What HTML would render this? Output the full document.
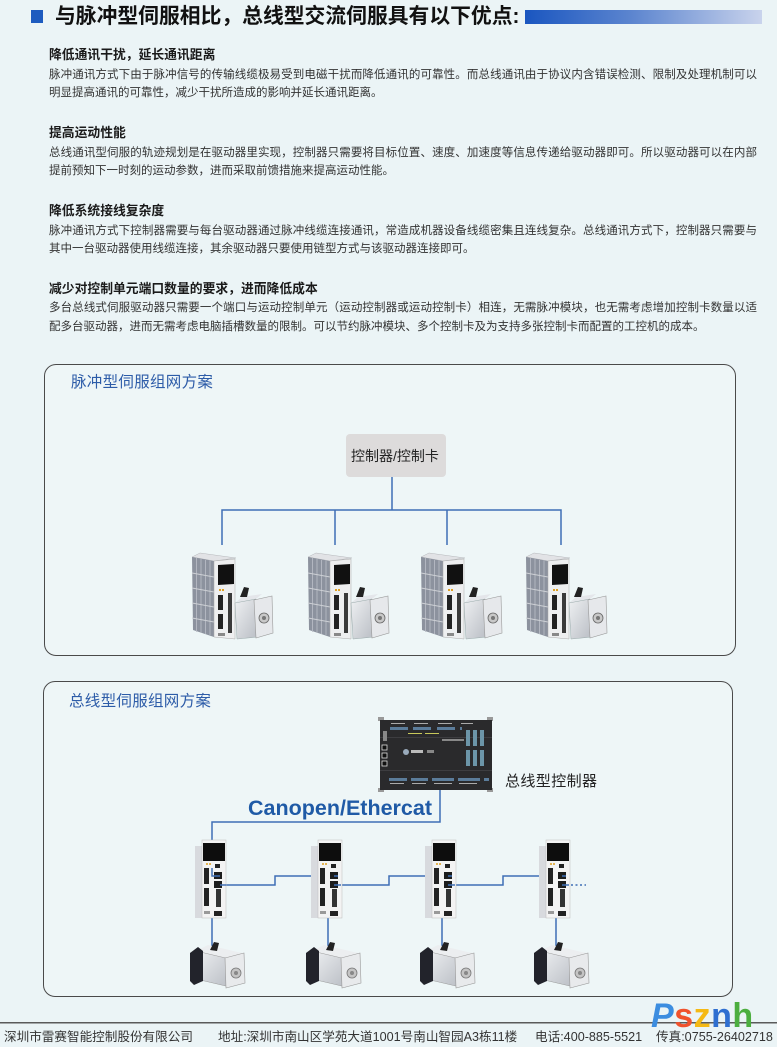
<!DOCTYPE html>
<html><head><meta charset="utf-8">
<style>
html,body{margin:0;padding:0;}
body{width:777px;height:1047px;position:relative;overflow:hidden;background:#ebf4f6;font-family:"Liberation Sans","Noto Sans CJK SC",sans-serif;}
.t{position:absolute;white-space:nowrap;}
.h{position:absolute;left:49px;font-size:12.8px;line-height:15px;font-weight:bold;color:#1a1a1a;white-space:nowrap;}
.b{position:absolute;left:49px;width:708px;font-size:11.5px;line-height:14px;color:#333;white-space:nowrap;}
.j{text-align:justify;text-align-last:justify;}
.pt{position:absolute;font-size:15.5px;line-height:18px;color:#2d5ca8;white-space:nowrap;letter-spacing:0.3px;}
.f{position:absolute;top:1029px;font-size:12.6px;line-height:16px;color:#333;white-space:nowrap;}
</style></head><body>

<!-- header -->
<div style="position:absolute;left:31px;top:10px;width:12px;height:13px;background:#1d5bbf;"></div>
<div class="t" style="left:55px;top:5px;font-size:20.8px;line-height:24px;font-weight:bold;color:#111;">与脉冲型伺服相比，总线型交流伺服具有以下优点:</div>
<div style="position:absolute;left:525px;top:10px;width:237px;height:14px;background:linear-gradient(to right,#1a56c0,#5c85cf 45%,#c9d3ec);"></div>

<!-- text blocks -->
<div class="h" style="top:47px;">降低通讯干扰，延长通讯距离</div>
<div class="b j" style="top:68px;">脉冲通讯方式下由于脉冲信号的传输线缆极易受到电磁干扰而降低通讯的可靠性。而总线通讯由于协议内含错误检测、限制及处理机制可以</div>
<div class="b" style="top:86px;">明显提高通讯的可靠性，减少干扰所造成的影响并延长通讯距离。</div>

<div class="h" style="top:125px;">提高运动性能</div>
<div class="b j" style="top:146px;">总线通讯型伺服的轨迹规划是在驱动器里实现，控制器只需要将目标位置、速度、加速度等信息传递给驱动器即可。所以驱动器可以在内部</div>
<div class="b" style="top:164px;">提前预知下一时刻的运动参数，进而采取前馈措施来提高运动性能。</div>

<div class="h" style="top:203px;">降低系统接线复杂度</div>
<div class="b j" style="top:224px;">脉冲通讯方式下控制器需要与每台驱动器通过脉冲线缆连接通讯，常造成机器设备线缆密集且连线复杂。总线通讯方式下，控制器只需要与</div>
<div class="b" style="top:242px;">其中一台驱动器使用线缆连接，其余驱动器只要使用链型方式与该驱动器连接即可。</div>

<div class="h" style="top:281px;">减少对控制单元端口数量的要求，进而降低成本</div>
<div class="b j" style="top:301px;">多台总线式伺服驱动器只需要一个端口与运动控制单元（运动控制器或运动控制卡）相连，无需脉冲模块，也无需考虑增加控制卡数量以适</div>
<div class="b" style="top:320px;">配多台驱动器，进而无需考虑电脑插槽数量的限制。可以节约脉冲模块、多个控制卡及为支持多张控制卡而配置的工控机的成本。</div>

<!-- panels -->
<div style="position:absolute;left:44px;top:364px;width:690px;height:290px;border:1.5px solid #4a4a4a;border-radius:12px;background:#eef6f7;"></div>
<div style="position:absolute;left:43px;top:681px;width:688px;height:314px;border:1.5px solid #4a4a4a;border-radius:12px;background:#eef6f7;"></div>

<div class="pt" style="left:71px;top:374px;">脉冲型伺服组网方案</div>
<div class="pt" style="left:69px;top:693px;">总线型伺服组网方案</div>

<svg style="position:absolute;left:0;top:0;" width="777" height="1047" viewBox="0 0 777 1047">
<defs>
  <linearGradient id="silver" x1="0" y1="0" x2="1" y2="1">
    <stop offset="0" stop-color="#eef0f2"/><stop offset="1" stop-color="#b9bdc4"/>
  </linearGradient>
  <g id="pd">
    <polygon points="2,4 10,0 46,5 24,8" fill="#e2e3e6" stroke="#b5b7bb" stroke-width="0.5"/>
    <polygon points="2,4 24,8 24,84 3,77" fill="#8c929e"/>
    <g stroke="#bcc0c8" stroke-width="0.8">
      <line x1="6.5" y1="5" x2="6.5" y2="79"/><line x1="11" y1="6" x2="11" y2="80"/>
      <line x1="15.5" y1="7" x2="15.5" y2="81"/><line x1="20" y1="7.5" x2="20" y2="82"/>
    </g>
    <g stroke="#cdd0d5" stroke-width="1">
      <line x1="2" y1="20" x2="24" y2="24"/><line x1="2" y1="35" x2="24" y2="39"/>
      <line x1="2" y1="50" x2="24" y2="54"/><line x1="2" y1="65" x2="24" y2="69"/>
    </g>
    <polygon points="24,8 45,6 45,86 24,84" fill="#eeeff0" stroke="#aaa" stroke-width="0.5"/>
    <polygon points="28,12 44,11 44,31 28,32" fill="#111"/>
    <rect x="29" y="36" width="2" height="2" fill="#e0a020"/><rect x="32" y="36" width="2" height="2" fill="#e0a020"/>
    <rect x="28" y="42" width="5" height="15" fill="#222"/>
    <rect x="28" y="61" width="5" height="15" fill="#222"/>
    <rect x="38" y="40" width="4" height="40" fill="#3a3a3a"/>
    <rect x="28" y="80" width="7" height="3" fill="#888"/>
    <polygon points="45,50 52,44 72,41 66,46" fill="#e4e6ea"/>
    <polygon points="45,50 66,46 68,84 47,86" fill="url(#silver)" stroke="#9aa" stroke-width="0.5"/>
    <polygon points="64,47 82,43 83,80 66,85" fill="#e6e8eb" stroke="#999" stroke-width="0.6"/>
    <circle cx="74" cy="65" r="5" fill="#c8c8c8" stroke="#666" stroke-width="0.8"/>
    <circle cx="74" cy="65" r="2" fill="#777"/>
    <polygon points="50,44 54,34 59,35 57,44" fill="#222"/>
  </g>
  <g id="bd">
    <rect x="0" y="6" width="7" height="72" fill="#d8dade"/>
    <rect x="7" y="0" width="24" height="78" fill="#f3f3f3" stroke="#bbb" stroke-width="0.5"/>
    <rect x="8" y="3" width="22" height="18" fill="#0d0d0d"/>
    <circle cx="12" cy="24" r="1" fill="#e0a020"/><circle cx="15" cy="24" r="1" fill="#e0a020"/>
    <rect x="20" y="24" width="5" height="4" fill="#222"/>
    <rect x="9" y="28" width="5" height="16" fill="#222"/>
    <rect x="19" y="32" width="8" height="7" fill="#1c1c1c"/>
    <rect x="19" y="41" width="8" height="7" fill="#1c1c1c"/>
    <rect x="9" y="48" width="5" height="18" fill="#222"/>
    <rect x="21" y="49" width="5" height="18" fill="#333"/>
    <rect x="19" y="71" width="8" height="5" fill="#222"/>
    <rect x="9" y="71" width="6" height="3" fill="#999"/>
  </g>
  <g id="bm">
    <polygon points="8,10 20,4 54,12 42,18" fill="#eceef0"/>
    <polygon points="8,10 42,18 42,46 8,38" fill="url(#silver)" stroke="#999" stroke-width="0.5"/>
    <polygon points="2,12 10,6 15,10 15,40 6,44 2,40" fill="#22232b"/>
    <polygon points="37,17 56,12 57,42 38,47" fill="#e8eaec" stroke="#999" stroke-width="0.6"/>
    <circle cx="48" cy="32" r="5" fill="#c4c4c4" stroke="#777" stroke-width="0.8"/>
    <circle cx="48" cy="32" r="2" fill="#888"/>
    <polygon points="22,9 26,1 31,2 29,10" fill="#222"/>
  </g>
</defs>

<!-- panel 1 -->
<rect x="346" y="434" width="100" height="43" rx="4" fill="#dddbdb"/>
<g stroke="#3f6fb5" stroke-width="1.5" fill="none">
  <path d="M392 477 V510 M222 545 V510 H561 V545 M335 510 V545 M447 510 V545"/>
</g>
<use href="#pd" x="190" y="553"/>
<use href="#pd" x="306" y="553"/>
<use href="#pd" x="419" y="553"/>
<use href="#pd" x="524" y="553"/>

<!-- panel 2 controller -->
<rect x="378" y="717" width="6" height="4" fill="#999"/>
<rect x="487" y="717" width="6" height="4" fill="#999"/>
<rect x="378" y="788" width="6" height="4" fill="#999"/>
<rect x="487" y="788" width="6" height="4" fill="#999"/>
<rect x="380" y="720" width="112" height="70" fill="#2a2a2c"/>
<rect x="380" y="737" width="112" height="1" fill="#3d3d40"/>
<rect x="380" y="770" width="112" height="1" fill="#3d3d40"/>
<g fill="#5b7c9a">
  <rect x="390" y="727" width="18" height="3"/><rect x="413" y="727" width="18" height="3"/>
  <rect x="437" y="727" width="18" height="3"/><rect x="460" y="727" width="2" height="3"/>
  <rect x="389" y="778" width="18" height="3"/><rect x="411" y="778" width="17" height="3"/>
  <rect x="432" y="778" width="22" height="3"/><rect x="458" y="778" width="22" height="3"/>
  <rect x="484" y="778" width="5" height="3"/>
</g>
<g fill="#aaa"><rect x="391" y="723" width="14" height="1"/><rect x="414" y="723" width="14" height="1"/><rect x="438" y="723" width="14" height="1"/><rect x="461" y="723" width="12" height="1"/>
<rect x="390" y="783" width="14" height="1"/><rect x="412" y="783" width="14" height="1"/><rect x="434" y="783" width="18" height="1"/><rect x="459" y="783" width="18" height="1"/></g>
<g fill="#c8c85a"><rect x="408" y="733" width="14" height="1"/><rect x="425" y="733" width="14" height="1"/></g>
<rect x="442" y="739" width="22" height="2" fill="#888"/>
<g fill="#6c95a8">
  <rect x="466" y="730" width="4" height="16"/><rect x="473" y="730" width="4" height="16"/><rect x="480" y="730" width="4" height="16"/>
  <rect x="466" y="750" width="4" height="16"/><rect x="473" y="750" width="4" height="16"/><rect x="480" y="750" width="4" height="16"/>
</g>
<rect x="383" y="731" width="4" height="10" fill="#888"/>
<g fill="#111" stroke="#ddd" stroke-width="0.8"><rect x="382" y="745" width="5" height="5"/><rect x="382" y="753" width="5" height="5"/><rect x="382" y="761" width="5" height="5"/></g>
<circle cx="406" cy="752" r="3" fill="#9ab"/>
<rect x="411" y="750" width="12" height="3" fill="#bbb"/><rect x="427" y="750" width="7" height="3" fill="#888"/>

<!-- bus lines -->
<g stroke="#3f6fb5" stroke-width="1.5" fill="none">
  <path d="M440 790 V822 H212 V876 H220"/>
  <path d="M220 885 H275 V876 H334"/>
  <path d="M334 885 H389 V876 H448"/>
  <path d="M448 885 H503 V876 H562"/>
  <path d="M212 918 V947 M328 918 V947 M442 918 V947 M556 918 V947"/>
</g>
<path d="M562 885 H586" stroke="#3f6fb5" stroke-width="1.5" stroke-dasharray="2,2.5" fill="none"/>

<use href="#bd" x="195" y="840"/>
<use href="#bd" x="311" y="840"/>
<use href="#bd" x="425" y="840"/>
<use href="#bd" x="539" y="840"/>
<g stroke="#3f6fb5" stroke-width="1.5" fill="none">
  <path d="M212 868 V876 H220 M220 885 H226 M334 876 H338 M334 885 H341 M448 876 H452 M448 885 H455 M562 876 H566 M562 885 H569"/>
</g>
<use href="#bm" x="188" y="941"/>
<use href="#bm" x="304" y="941"/>
<use href="#bm" x="418" y="941"/>
<use href="#bm" x="532" y="941"/>

<!-- footer line -->
<rect x="0" y="1022" width="777" height="1.5" fill="#5a5a5a"/>
</svg>

<div class="t" style="left:351px;top:446px;font-size:14px;line-height:20px;color:#222;">控制器/控制卡</div>
<div class="t" style="left:505px;top:773px;font-size:15px;line-height:18px;color:#222;letter-spacing:0.4px;">总线型控制器</div>
<div class="t" style="left:248px;top:795px;font-size:21.5px;line-height:26px;font-weight:bold;color:#1f5aa6;">Canopen/Ethercat</div>

<!-- footer -->
<div class="f" style="left:4px;">深圳市雷赛智能控制股份有限公司</div>
<div class="f" style="left:218px;">地址:深圳市南山区学苑大道1001号南山智园A3栋11楼</div>
<div class="f" style="left:535px;">电话:400-885-5521</div>
<div class="f" style="left:656px;">传真:0755-26402718</div>

<div class="t" style="left:651px;top:998px;font-size:34px;line-height:36px;font-weight:bold;letter-spacing:0.5px;">
<span style="color:#3c8de0;font-style:italic;">P</span><span style="color:#f0522d;">s</span><span style="color:#f5b914;">z</span><span style="color:#2f6fd0;">n</span><span style="color:#4cae3f;">h</span>
</div>

</body></html>
